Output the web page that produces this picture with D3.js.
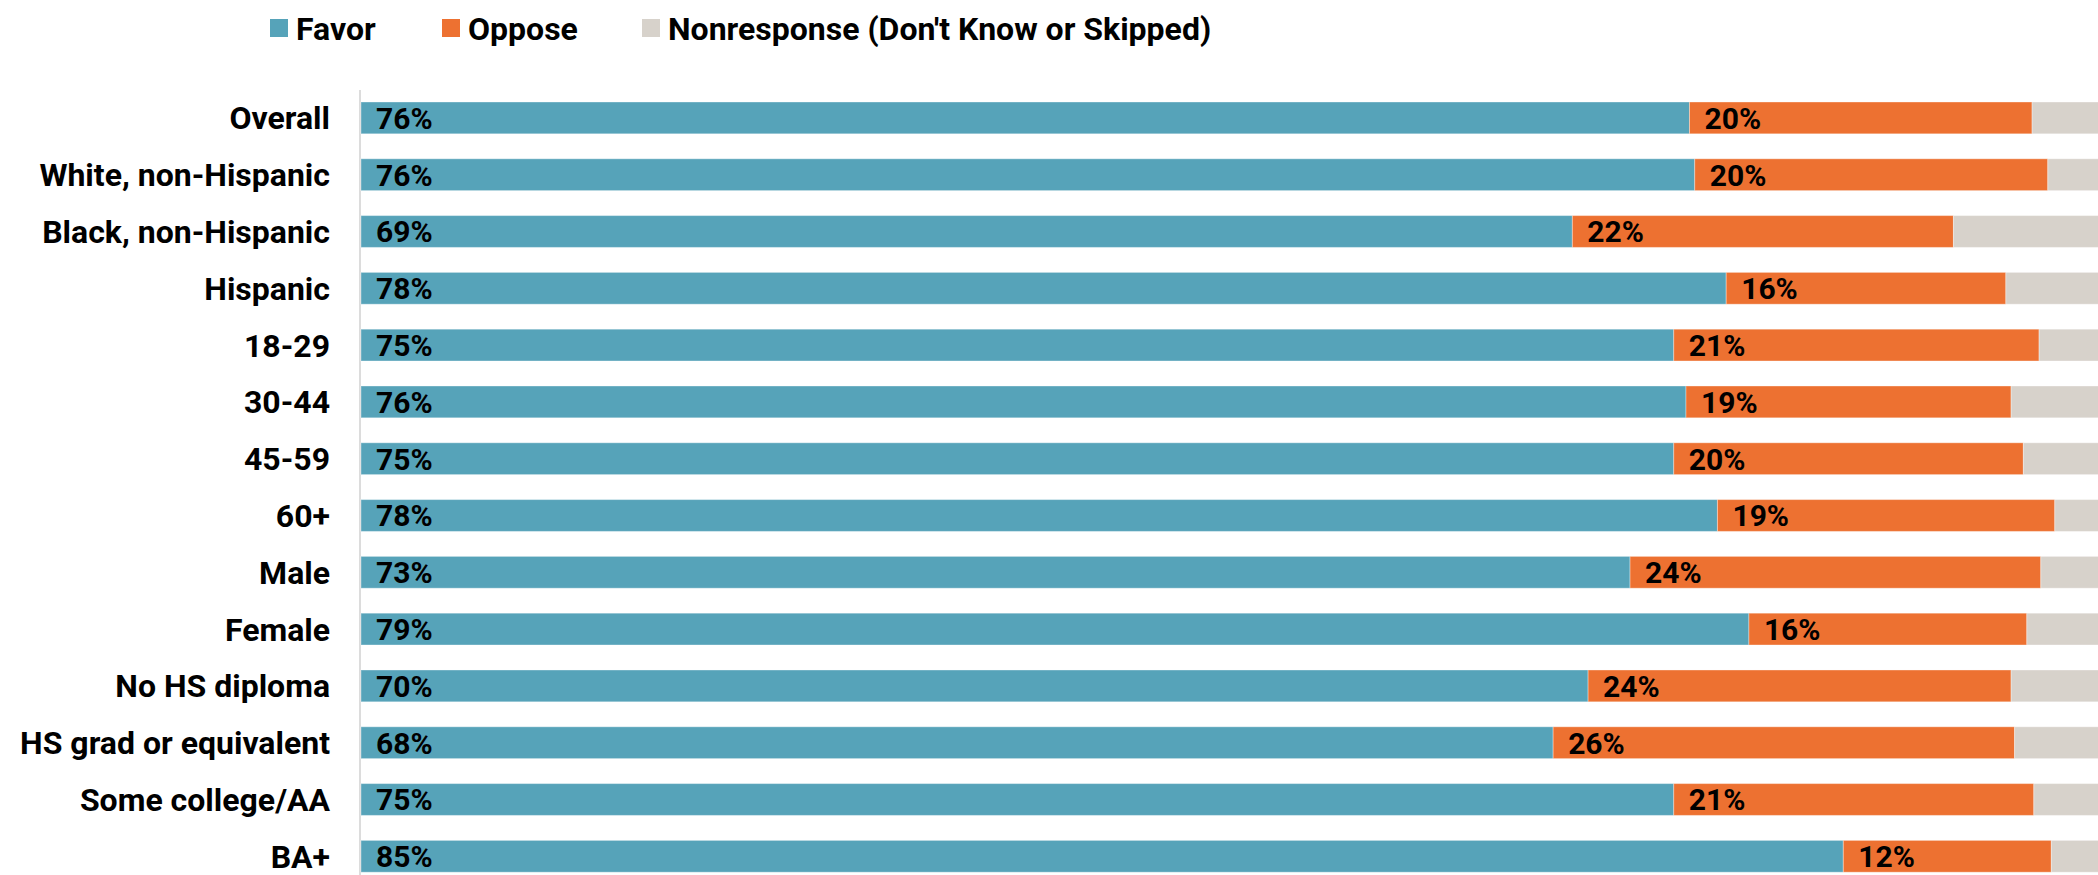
<!DOCTYPE html>
<html>
<head>
<meta charset="utf-8">
<script src="https://cdn.jsdelivr.net/npm/d3@7"></script>
<style>
  html, body { margin: 0; padding: 0; background: #fff; }
  svg { display: block; font-family: Roboto, "Noto Sans", sans-serif; font-weight: 700; }
</style>
</head>
<body>
<svg id="chart" width="2098" height="875"></svg>
<script>
const categories = ["Overall", "White, non-Hispanic", "Black, non-Hispanic", "Hispanic", "18-29", "30-44", "45-59", "60+", "Male", "Female", "No HS diploma", "HS grad or equivalent", "Some college/AA", "BA+"];
const favor  = [76.0, 76.3, 69.3, 78.1, 75.1, 75.8, 75.1, 77.6, 72.6, 79.4, 70.2, 68.2, 75.1, 84.8];
const oppose = [19.6, 20.2, 21.8, 16.0, 20.9, 18.6, 20.0, 19.3, 23.5, 15.9, 24.2, 26.4, 20.6, 11.9];
const nonresponse = favor.map((f, i) => 100 - f - oppose[i]);
const seriesNames = ["Favor", "Oppose", "Nonresponse (Don't Know or Skipped)"];
const seriesColors = ["#56a3b9", "#ed7131", "#d7d2cb"];

const svg = d3.select("#chart");
const W = 2098, H = 875;
const margin = { top: 90, right: 0, bottom: 0, left: 361 };

const rows = categories.map((c, i) => ({ cat: c, Favor: favor[i], Oppose: oppose[i], Non: nonresponse[i] }));
const keys = ["Favor", "Oppose", "Non"];
const stack = d3.stack().keys(keys)(rows);

const x = d3.scaleLinear().domain([0, 100]).range([margin.left, margin.left + 1748]);
const y = d3.scaleBand().domain(categories).range([89.5, 89.5 + 56.8 * categories.length]).paddingInner(0.44).paddingOuter(0.22);

const color = d3.scaleOrdinal().domain(keys).range(seriesColors);

// axis line
svg.append("line")
  .attr("x1", margin.left - 1).attr("x2", margin.left - 1)
  .attr("y1", margin.top).attr("y2", H)
  .attr("stroke", "#dcdcdc").attr("stroke-width", 2);

// bars
const g = svg.append("g");
stack.forEach(layer => {
  g.selectAll(null).data(layer).join("rect")
    .attr("x", d => x(d[0]))
    .attr("y", d => y(d.data.cat))
    .attr("width", d => x(d[1]) - x(d[0]))
    .attr("height", y.bandwidth())
    .attr("fill", color(layer.key))
    .attr("stroke", "#ffffff").attr("stroke-opacity", 0.35).attr("stroke-width", 1);
});

// value labels (favor & oppose)
const fmt = v => Math.round(v) + "%";
stack.slice(0, 2).forEach(layer => {
  g.selectAll(null).data(layer).join("text")
    .attr("x", d => x(d[0]) + 15)
    .attr("y", d => y(d.data.cat) + y.bandwidth() / 2)
    .attr("dy", "0.36em")
    .attr("font-size", 30)
    .attr("fill", "#000")
    .text(d => fmt(d[1] - d[0]));
});

// category labels
const yAxis = d3.axisLeft(y).tickSize(0).tickPadding(0);
const ax = svg.append("g").attr("transform", `translate(330,0)`).call(yAxis);
ax.select(".domain").remove();
ax.selectAll("text").attr("font-size", 32).attr("font-family", "Roboto, sans-serif").attr("font-weight", 700).attr("fill", "#000").attr("dy", "0.36em");

// legend
const legendX = [270, 442, 642];
const leg = svg.append("g");
seriesNames.forEach((name, i) => {
  leg.append("rect").attr("x", legendX[i]).attr("y", 19).attr("width", 18).attr("height", 18).attr("fill", seriesColors[i]);
  leg.append("text").attr("x", legendX[i] + 26).attr("y", 28).attr("dy", "0.36em")
    .attr("font-size", 32).attr("fill", "#000").text(name);
});
</script>
</body>
</html>
